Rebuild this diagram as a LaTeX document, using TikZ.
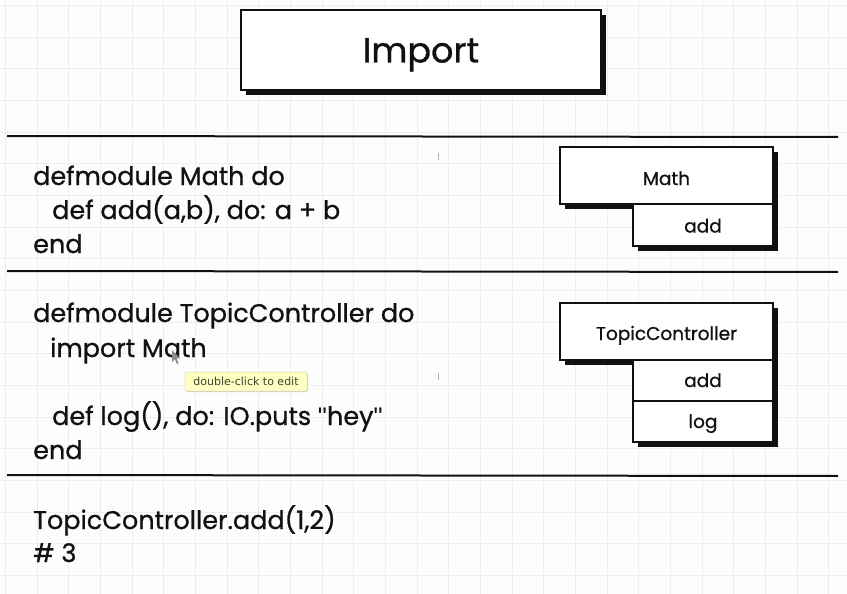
\documentclass[tikz,border=0pt]{standalone}
\usepackage{fontspec}
\setmainfont{Poppins}[FakeBold=0.8]
\newfontfamily\heavyfont{Poppins}[FakeBold=0.8]
\newfontfamily\tipfont{DejaVu Sans}
\newfontfamily\quotefont{Liberation Sans}
\usetikzlibrary{shadows}
\definecolor{gridc}{HTML}{EEEEEE}
\definecolor{bgc}{HTML}{FDFDFD}
\definecolor{ink}{HTML}{111111}
\definecolor{tipfill}{HTML}{FFFFC2}
\definecolor{tipdraw}{HTML}{D6D6A0}
\definecolor{tiptext}{HTML}{3A452C}
\newcommand{\dq}{{\quotefont\symbol{"22}}}
\tikzset{
  sketchbox/.style={draw=ink, line width=2.2pt, fill=white, inner sep=0pt, outer sep=0pt,
    general shadow={fill=ink, shadow xshift=5pt, shadow yshift=-5pt},
    font=\heavyfont\fontsize{18.5}{20}\selectfont, text=ink, text depth=0pt, text height=14pt},
  rule/.style={draw=ink, line width=2pt},
  code/.style={anchor=base west, inner sep=0pt, font=\heavyfont\fontsize{25.5}{28}\selectfont, text=ink},
  tip/.style={fill=tipfill, draw=tipdraw, line width=0.5pt, rounded corners=1.5pt,
    minimum width=122pt, minimum height=19pt, inner sep=0pt,
    font=\tipfont\fontsize{11}{12}\selectfont, text=tiptext,
    general shadow={fill=black!18, shadow xshift=0.8pt, shadow yshift=-1.2pt}},
}
\begin{document}
\begin{tikzpicture}[x=1pt,y=-1pt]
\useasboundingbox (0,0) rectangle (847,594);
\fill[bgc] (0,0) rectangle (847,594);
\foreach \i in {0,...,26} { \draw[gridc, line width=0.9pt] (5.3+31.67*\i,0) -- ++(0,594); }
\foreach \j in {0,...,18} { \draw[gridc, line width=0.9pt] (0,5.3+31.67*\j) -- ++(847,0); }
% faint marks
\fill[black!30] (437.5,153) rectangle (438.8,160);
\fill[black!30] (437.5,373) rectangle (438.8,380);

% title
\node[sketchbox, minimum width=360pt, minimum height=80pt, font=\heavyfont\fontsize{35}{40}\selectfont, text height=25pt] (title) at (421,50) {Import};

% rules
\coordinate (r1a) at (7,136); \coordinate (r1b) at (838,137);
\coordinate (r2a) at (7,271); \coordinate (r2b) at (838,272);
\coordinate (r3a) at (7,475); \coordinate (r3b) at (838,476);
\draw[rule] (r1a) -- (r1b);
\draw[rule] (r2a) -- (r2b);
\draw[rule] (r3a) -- (r3b);

% section 1 code
\node[code] (c1) at (33,185) {defmodule Math do};
\node[code] (c2) at (52,219) {def add(a,b), do: a + b};
\node[code] (c3) at (33,253) {end};

% section 2 code
\node[code] (c4) at (33,322) {defmodule TopicController do};
\node[code] (c5) at (50,357) {import Math};
\node[code] (c6) at (52,425) {def log(), do: IO.puts \dq hey\dq};
\node[code] (c7) at (33,459) {end};

% section 3 code
\node[code] (c8) at (33,529) {TopicController.add(1,2)};
\node[code] (c9) at (33,562) {\# 3};

% Math module
\node[sketchbox, minimum width=213pt, minimum height=57pt, text height=19pt] (math) at (666.5,175.5) {Math};
\node[sketchbox, minimum width=140pt, minimum height=42pt, text height=15pt] (mathadd) at (703,225) {add};

% TopicController module
\node[sketchbox, minimum width=213pt, minimum height=57pt, text height=17pt] (tc) at (666.5,331.5) {TopicController};
\node[sketchbox, minimum width=140pt, minimum height=41pt, text height=13pt] (tcadd) at (703,380.5) {add};
\node[sketchbox, minimum width=140pt, minimum height=41pt, text height=13pt] (tclog) at (703,421.5) {log};

% cursor
\fill[black!45] (172,350) -- (172,362) -- (174.8,359.2) -- (177,364) -- (178.6,363.2) -- (176.5,358.6) -- (180.3,358.3) -- cycle;

% tooltip
\node[tip] (tooltip) at (246,381.5) {double-click to edit};
\end{tikzpicture}
\end{document}
